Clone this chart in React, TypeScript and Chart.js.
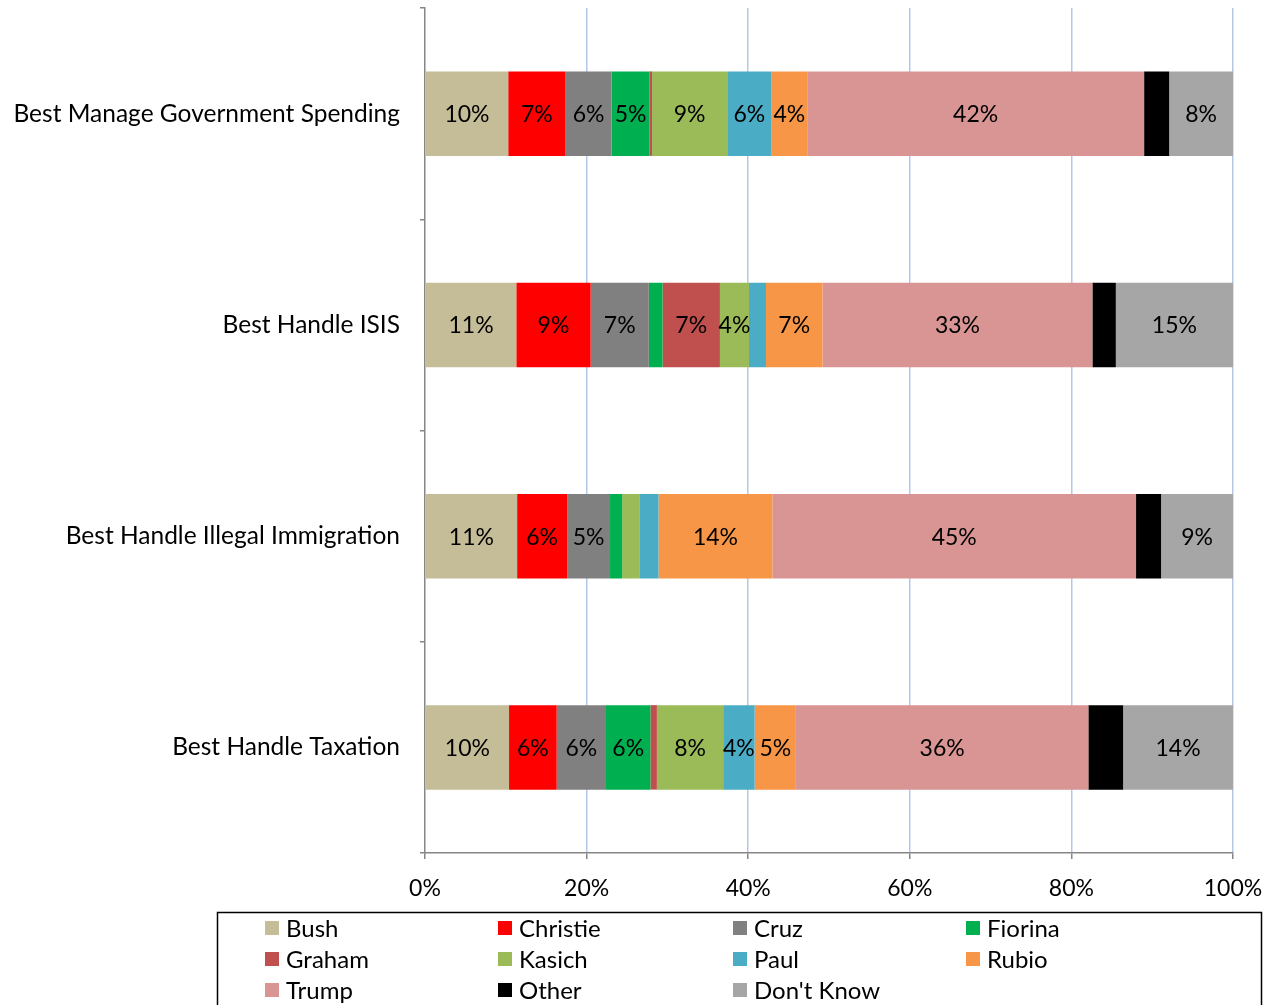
import React, { useEffect, useRef } from 'react';
import { Chart, registerables } from 'chart.js';

Chart.register(...registerables);

const categories = [
  'Best Manage Government Spending',
  'Best Handle ISIS',
  'Best Handle Illegal Immigration',
  'Best Handle Taxation',
];

const seriesNames = ['Bush', 'Christie', 'Cruz', 'Fiorina', 'Graham', 'Kasich', 'Paul', 'Rubio', 'Trump', 'Other', "Don't Know"];

const bush = [10.3, 11.3, 11.4, 10.4];
const christie = [7.1, 9.2, 6.2, 5.9];
const cruz = [5.7, 7.2, 5.3, 6.1];
const fiorina = [4.7, 1.7, 1.5, 5.5];
const graham = [0.3, 7.1, 0, 0.8];
const kasich = [9.3, 3.6, 2.2, 8.2];
const paul = [5.5, 2.1, 2.3, 3.9];
const rubio = [4.4, 7.0, 14.1, 5.1];
const trump = [41.7, 33.4, 45.0, 36.2];
const other = [3.1, 2.9, 3.1, 4.3];
const dontKnow = [7.9, 14.5, 8.9, 13.6];

const seriesValues = [bush, christie, cruz, fiorina, graham, kasich, paul, rubio, trump, other, dontKnow];

const colors = ['#C4BD97', '#FF0000', '#808080', '#00B050', '#C0504D', '#9BBB59', '#4BACC6', '#F79646', '#D99594', '#000000', '#A6A6A6'];

const xTicks = [0, 20, 40, 60, 80, 100];

const FONT = 'Lato, "Open Sans", sans-serif';
const FS = 23;

const labelPlugin = {
  id: 'segLabels',
  afterDatasetsDraw(chart: any) {
    const ctx = chart.ctx;
    ctx.save();
    ctx.font = `${FS}px ${FONT}`;
    ctx.fillStyle = '#000';
    ctx.textAlign = 'center';
    ctx.textBaseline = 'middle';
    chart.data.datasets.forEach((ds: any, di: number) => {
      if (ds.label === 'Other') return;
      const meta = chart.getDatasetMeta(di);
      meta.data.forEach((el: any, i: number) => {
        const v = ds.data[i];
        if (v < 3.5) return;
        const cx = (el.x + el.base) / 2;
        ctx.fillText(Math.round(v) + '%', cx, el.y + 1);
      });
    });
    ctx.restore();
  },
};

const legendPlugin = {
  id: 'boxLegend',
  afterDraw(chart: any) {
    const ctx = chart.ctx;
    ctx.save();
    ctx.strokeStyle = '#000';
    ctx.lineWidth = 1.5;
    ctx.strokeRect(217.5, 912.5, 1044, 110);
    const colX = [265, 498, 733, 966];
    const rowY = [928, 959, 990];
    ctx.font = `24px ${FONT}`;
    ctx.textBaseline = 'middle';
    ctx.textAlign = 'left';
    chart.data.datasets.forEach((ds: any, i: number) => {
      const x = colX[i % 4];
      const y = rowY[Math.floor(i / 4)];
      ctx.fillStyle = ds.backgroundColor;
      ctx.fillRect(x, y - 7, 14, 14);
      ctx.fillStyle = '#000';
      ctx.fillText(ds.label, x + 21, y + 1);
    });
    ctx.restore();
  },
};

export default function App() {
  const ref = useRef<HTMLCanvasElement>(null);
  useEffect(() => {
    if (!ref.current) return;
    const datasets = seriesNames.map((n, i) => ({
      label: n,
      data: seriesValues[i],
      backgroundColor: colors[i],
      borderWidth: 0,
      barPercentage: 0.8,
      categoryPercentage: 0.5,
    }));
    const chart = new Chart(ref.current, {
      type: 'bar',
      data: { labels: categories, datasets },
      plugins: [labelPlugin, legendPlugin],
      options: {
        indexAxis: 'y',
        animation: false,
        responsive: true,
        maintainAspectRatio: false,
        layout: { padding: { left: 0, right: 45, top: 8, bottom: 100 } },
        plugins: {
          legend: { display: false },
          tooltip: { enabled: false },
        },
        scales: {
          x: {
            stacked: true,
            min: 0,
            max: 100,
            afterBuildTicks: (scale: any) => {
              scale.ticks = xTicks.map((v) => ({ value: v }));
            },
            afterFit: (scale: any) => {
              scale.height = 52;
              scale.paddingLeft = 0;
              scale.paddingRight = 0;
            },
            ticks: {
              callback: (v: any) => v + '%',
              color: '#000',
              font: { family: FONT, size: FS },
              padding: 16,
              maxRotation: 0,
            },
            grid: {
              color: (c: any) => (c.index === 0 ? 'rgba(0,0,0,0)' : '#B4C7E7'),
              lineWidth: 1.5,
              tickColor: '#868686',
              tickLength: 6,
            },
            border: { color: '#868686', width: 1.5 },
          },
          y: {
            stacked: true,
            afterFit: (scale: any) => {
              scale.width = 425;
              scale.paddingTop = 0;
              scale.paddingBottom = 0;
            },
            ticks: {
              color: '#000',
              font: { family: FONT, size: 24.5 },
              padding: 20,
            },
            grid: {
              drawOnChartArea: false,
              drawTicks: true,
              tickLength: 5,
              color: '#868686',
              lineWidth: 1.5,
              offset: true,
            },
            border: { color: '#868686', width: 1.5 },
          },
        },
      },
    });
    return () => chart.destroy();
  }, []);
  return (
    <div style={{ position: 'fixed', left: 0, top: 0, width: 1278, height: 1005, background: '#fff' }}>
      <canvas ref={ref} />
    </div>
  );
}
